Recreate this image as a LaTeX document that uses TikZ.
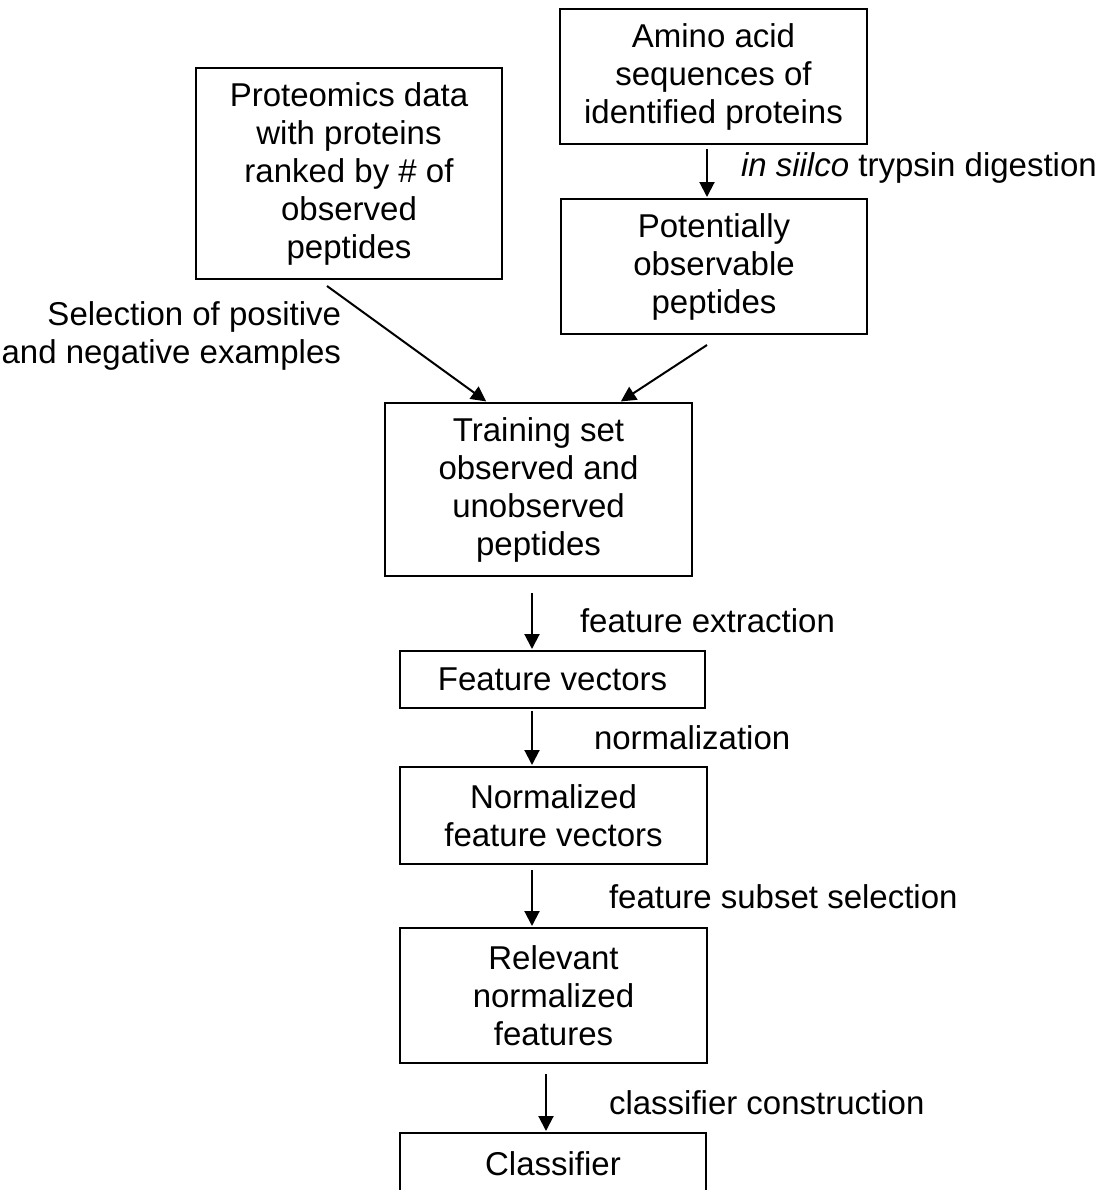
\documentclass[tikz,border=0pt]{standalone}
\usepackage{fontspec}
\setmainfont{Liberation Sans}
\usepackage{tikz}
\usetikzlibrary{arrows.meta, positioning}

\begin{document}
\begin{tikzpicture}[x=0.5pt, y=-0.5pt, line width=1pt, >={Triangle[length=7.5pt, width=7.5pt]},
		font=\fontsize{16.5}{19}\selectfont,
		box/.style={draw, align=center, inner sep=0pt},
		lbl/.style={inner sep=0pt, anchor=west},
		flow/.style={->, shorten >=0.5pt}]
		\useasboundingbox (0, 0) rectangle (1106, 1190);
		\coordinate (axis) at (532, 0);
		\coordinate (lastaxis) at (546, 0);

		\node[box, minimum width=153pt, minimum height=105.5pt] (prot) at (349, 173.5) {Proteomics data\\with proteins\\ranked by \# of\\observed\\peptides};
		\node[box, minimum width=153.5pt, minimum height=67.5pt] (amino) at (713.5, 76.5) {Amino acid\\sequences of\\identified proteins};
		\node[box, minimum width=153pt, minimum height=67.5pt] (pot) at (714, 266.5) {Potentially\\observable\\peptides};
		\node[box, minimum width=153.5pt, minimum height=86.5pt] (train) at (538.5, 489.5) {Training set\\observed and\\unobserved\\peptides};
		\node[box, minimum width=152.5pt, minimum height=28.5pt] (fv) at (552.5, 679.5) {Feature vectors};
		\node[box, minimum width=153.5pt, minimum height=48.5pt] (norm) at (553.5, 815.5) {Normalized\\feature vectors};
		\node[box, minimum width=153.5pt, minimum height=67.5pt] (rel) at (553.5, 995.5) {Relevant\\normalized\\features};
		\node[box, minimum width=153pt, minimum height=31pt] (cls) at (553, 1164) {Classifier};

		\node[lbl] (digest) at (740, 168) {\textit{in siilco} trypsin digestion};
		\node[inner sep=0pt, anchor=east, align=right] (select) at (342, 336) {Selection of positive\\and negative examples};
		\node[lbl] (extract) at (579, 621) {feature extraction};
		\node[lbl] (normal) at (593, 738) {normalization};
		\node[lbl] (subset) at (608, 897) {feature subset selection};
		\node[lbl] (build) at (608, 1103) {classifier construction};

		\draw[flow, shorten <=2pt] (amino.south -| 707, 0) -- (pot.north -| 707, 0);
		\draw[flow] ([xshift=-11pt, yshift=-3pt]prot.south) -- ([xshift=-25.75pt]train.north);
		\draw[flow] ([xshift=-3.5pt, yshift=-5pt]pot.south) -- ([xshift=40.75pt]train.north);
		\draw[flow, shorten <=8pt] (train.south -| axis) -- (fv.north -| axis);
		\draw[flow, shorten <=1pt] (fv.south -| axis) -- (norm.north -| axis);
		\draw[flow, shorten <=2.5pt] (norm.south -| axis) -- (rel.north -| axis);
		\draw[flow, shorten <=5pt] (rel.south -| lastaxis) -- (cls.north -| lastaxis);
	\end{tikzpicture}
\end{document}
